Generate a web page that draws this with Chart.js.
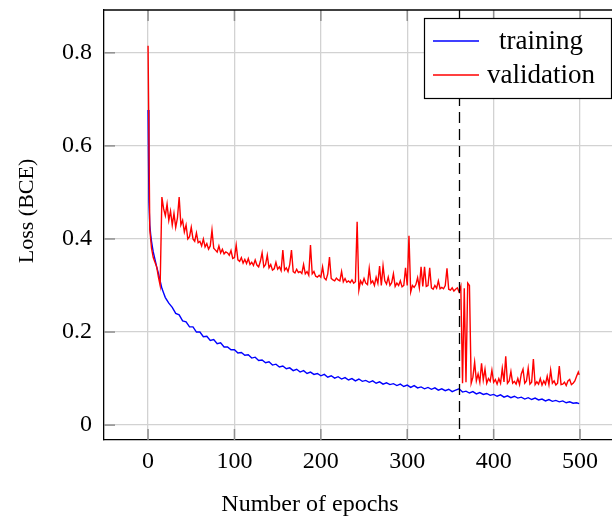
<!DOCTYPE html>
<html><head><meta charset="utf-8">
<script src="https://cdn.jsdelivr.net/npm/chart.js@4.4.0/dist/chart.umd.min.js"></script>
<style>html,body{margin:0;padding:0;background:#fff;}#wrap{width:612px;height:518px;}</style>
</head><body><div id="wrap"><canvas id="c" width="612" height="518"></canvas></div>
<script>
const seriesLabels = ['training', 'validation'];
const xTitle = 'Number of epochs';
const yTitle = 'Loss (BCE)';
const xTicks = [0, 100, 200, 300, 400, 500];
const yTicks = [0, 0.2, 0.4, 0.6, 0.8];
const markerEpoch = 360;

const trainEpochs = [0,1,2,3,4,5,6,8,10,12,14,16,18,20,
 24,28,32,36,40,44,48,52,56,60,64,68,72,76,80,84,88,92,96,100,
 104,108,112,116,120,124,128,132,136,140,144,148,152,156,160,164,168,172,176,180,
 184,188,192,196,200,204,208,212,216,220,224,228,232,236,240,244,248,252,256,260,
 264,268,272,276,280,284,288,292,296,300,304,308,312,316,320,324,328,332,336,340,
 344,348,352,356,360,364,368,372,376,380,384,388,392,396,400,404,408,412,416,420,
 424,428,432,436,440,444,448,452,456,460,464,468,472,476,480,484,488,492,496,499];
const trainLoss = [0.677,0.48,0.43,0.41,0.395,0.383,0.372,0.356,0.34,0.326,0.31,0.294,0.284,0.274,
 0.262,0.253,0.240,0.237,0.224,0.222,0.211,0.211,0.200,0.200,0.190,0.191,0.182,0.184,0.175,0.177,0.168,0.168,0.162,0.162,
 0.155,0.156,0.150,0.151,0.144,0.146,0.139,0.140,0.134,0.136,0.129,0.131,0.125,0.127,0.121,0.123,0.117,0.120,0.114,0.117,
 0.111,0.114,0.109,0.111,0.106,0.109,0.103,0.106,0.101,0.104,0.099,0.102,0.097,0.100,0.095,0.099,0.094,0.096,0.092,0.095,
 0.090,0.093,0.088,0.091,0.087,0.089,0.085,0.088,0.083,0.086,0.081,0.085,0.080,0.082,0.078,0.081,0.077,0.080,0.075,0.078,
 0.074,0.077,0.072,0.075,0.078,0.071,0.073,0.069,0.072,0.067,0.070,0.066,0.068,0.064,0.066,0.062,0.065,0.060,0.063,0.059,
 0.062,0.058,0.060,0.056,0.059,0.055,0.058,0.054,0.056,0.052,0.055,0.051,0.053,0.050,0.052,0.048,0.050,0.047,0.048,0.046];

const valEpochs = [0,2,4,6,8,10,12,14,16,18,20,22,24,26,28,30,32,34,36,38,
 40,42,44,46,48,50,52,54,56,58,60,62,64,66,68,70,72,74,76,78,
 80,82,84,86,88,90,92,94,96,98,100,102,104,106,108,110,112,114,116,118,
 120,122,124,126,128,130,132,134,136,138,140,142,144,146,148,150,152,154,156,158,
 160,162,164,166,168,170,172,174,176,178,180,182,184,186,188,190,192,194,196,198,
 200,202,204,206,208,210,212,214,216,218,220,222,224,226,228,230,232,234,236,238,
 240,242,244,246,248,250,252,254,256,258,260,262,264,266,268,270,272,274,276,278,
 280,282,284,286,288,290,292,294,296,298,300,302,304,306,308,310,312,314,316,318,
 320,322,324,326,328,330,332,334,336,338,340,342,344,346,348,350,352,354,356,358,
 360,362,364,366,368,370,372,374,376,378,380,382,384,386,388,390,392,394,396,398,
 400,402,404,406,408,410,412,414,416,418,420,422,424,426,428,430,432,434,436,438,
 440,442,444,446,448,450,452,454,456,458,460,462,464,466,468,470,472,474,476,478,
 480,482,484,486,488,490,492,494,496,498,499];
const valLoss = [
 0.815,0.42,0.38,0.36,0.35,0.34,0.318,0.300,0.49,0.465,
 0.45,0.475,0.44,0.46,0.43,0.455,0.425,0.445,0.49,0.43,
 0.44,0.415,0.43,0.40,0.405,0.425,0.40,0.395,0.413,0.392,
 0.395,0.385,0.40,0.383,0.39,0.378,0.385,0.419,0.38,0.376,
 0.372,0.385,0.37,0.378,0.368,0.372,0.37,0.365,0.375,0.358,
 0.36,0.387,0.355,0.352,0.36,0.348,0.356,0.347,0.358,0.345,
 0.35,0.343,0.355,0.344,0.34,0.352,0.37,0.34,0.345,0.365,
 0.338,0.345,0.333,0.336,0.35,0.335,0.34,0.332,0.376,0.333,
 0.338,0.33,0.345,0.376,0.33,0.327,0.335,0.328,0.33,0.326,
 0.345,0.325,0.33,0.322,0.387,0.325,0.33,0.32,0.318,0.322,
 0.318,0.34,0.316,0.312,0.325,0.361,0.315,0.312,0.31,0.316,
 0.312,0.31,0.33,0.308,0.315,0.307,0.31,0.306,0.312,0.305,
 0.308,0.437,0.29,0.31,0.303,0.315,0.305,0.302,0.337,0.305,
 0.31,0.30,0.318,0.305,0.342,0.30,0.342,0.31,0.303,0.318,
 0.30,0.306,0.325,0.298,0.305,0.30,0.31,0.297,0.30,0.338,
 0.30,0.407,0.286,0.30,0.296,0.302,0.317,0.295,0.34,0.298,
 0.34,0.298,0.30,0.338,0.295,0.292,0.30,0.294,0.31,0.293,
 0.296,0.293,0.30,0.337,0.292,0.29,0.295,0.288,0.292,0.295,
 0.286,0.298,0.09,0.294,0.092,0.305,0.30,0.09,0.103,0.135,
 0.095,0.11,0.092,0.133,0.097,0.12,0.09,0.10,0.094,0.118,
 0.092,0.098,0.088,0.10,0.09,0.122,0.093,0.148,0.09,0.095,
 0.115,0.09,0.094,0.088,0.10,0.087,0.11,0.12,0.09,0.095,
 0.122,0.088,0.092,0.142,0.087,0.093,0.088,0.10,0.086,0.095,
 0.088,0.105,0.087,0.118,0.09,0.095,0.086,0.09,0.127,0.087,
 0.088,0.092,0.085,0.095,0.098,0.087,0.09,0.095,0.105,0.114,0.108];

const FONT = '"Liberation Serif", "Times New Roman", serif';

function pts(xs, ys) { return xs.map((v, i) => ({x: v, y: ys[i]})); }

const overlay = {
  id: 'overlay',
  afterDatasetsDraw(chart) {
    const {ctx, chartArea: a, scales: {x, y}} = chart;
    const seg = (x1, y1, x2, y2) => { ctx.beginPath(); ctx.moveTo(x1, y1); ctx.lineTo(x2, y2); ctx.stroke(); };
    ctx.save();
    // tick marks (inside)
    ctx.strokeStyle = '#8f8f8f'; ctx.lineWidth = 1.5;
    xTicks.forEach(v => { const p = x.getPixelForValue(v); seg(p, a.top, p, a.top + 11); seg(p, a.bottom, p, a.bottom - 11); });
    yTicks.forEach(v => { const p = y.getPixelForValue(v); seg(a.left, p, a.left + 11, p); });
    // frame top
    ctx.strokeStyle = '#000'; ctx.lineWidth = 1.3;
    seg(a.left, a.top, a.right, a.top);
    // marker dashed line
    const mx = Math.round(x.getPixelForValue(markerEpoch)) + 0.5;
    ctx.setLineDash([11, 6]); ctx.lineWidth = 1.3;
    seg(mx, a.top, mx, a.bottom);
    ctx.setLineDash([]);
    // legend
    const lx = 424, ly = 18, lw = 187, lh = 80;
    ctx.fillStyle = '#fff'; ctx.fillRect(lx, ly, lw, lh);
    ctx.strokeStyle = '#000'; ctx.lineWidth = 1.2; ctx.strokeRect(lx + 0.5, ly + 0.5, lw, lh);
    ctx.font = '27px ' + FONT; ctx.textAlign = 'center'; ctx.textBaseline = 'alphabetic';
    chart.data.datasets.forEach((ds, i) => {
      const cy = 41 + i * 34;
      ctx.strokeStyle = ds.borderColor; ctx.lineWidth = 1.4;
      seg(433, cy, 479, cy);
      ctx.fillStyle = '#000';
      ctx.fillText(ds.label, 541, cy + 8);
    });
    // axis titles
    ctx.fillStyle = '#000';
    ctx.font = '24px ' + FONT; ctx.textAlign = 'center';
    ctx.fillText(xTitle, 310, 511);
    ctx.save(); ctx.translate(33, 211); ctx.rotate(-Math.PI / 2);
    ctx.font = '22px ' + FONT; ctx.fillText(yTitle, 0, 0);
    ctx.restore();
    ctx.restore();
  }
};

new Chart(document.getElementById('c'), {
  type: 'line',
  data: {
    datasets: [
      {label: seriesLabels[0], data: pts(trainEpochs, trainLoss), borderColor: '#0000ff', borderWidth: 1.4, pointRadius: 0, tension: 0, order: 1},
      {label: seriesLabels[1], data: pts(valEpochs, valLoss), borderColor: '#ff0000', borderWidth: 1.4, pointRadius: 0, tension: 0, order: 0}
    ]
  },
  options: {
    responsive: false, animation: false, devicePixelRatio: 1,
    layout: {padding: {top: 10, right: 0, bottom: 0, left: 0}},
    plugins: {legend: {display: false}, tooltip: {enabled: false}, title: {display: false}},
    scales: {
      x: {
        type: 'linear', min: -51, max: 537, position: 'bottom',
        afterBuildTicks: s => { s.ticks = xTicks.map(v => ({value: v})); },
        afterFit: s => { s.height = 78; s.paddingLeft = 0; s.paddingRight = 0; },
        ticks: {font: {family: FONT, size: 24}, color: '#000', padding: 7, maxRotation: 0, autoSkip: false},
        grid: {color: '#d2d2d2', lineWidth: 1.3, drawTicks: false},
        border: {display: true, color: '#000', width: 1.3}
      },
      y: {
        type: 'linear', min: -0.032, max: 0.892,
        afterBuildTicks: s => { s.ticks = yTicks.map(v => ({value: v})); },
        afterFit: s => { s.width = 104; s.paddingTop = 0; s.paddingBottom = 0; },
        ticks: {font: {family: FONT, size: 24}, color: '#000', padding: 12, callback: v => String(v)},
        grid: {color: '#d2d2d2', lineWidth: 1.3, drawTicks: false},
        border: {display: true, color: '#000', width: 1.3}
      }
    }
  },
  plugins: [overlay]
});
</script>
</body></html>
